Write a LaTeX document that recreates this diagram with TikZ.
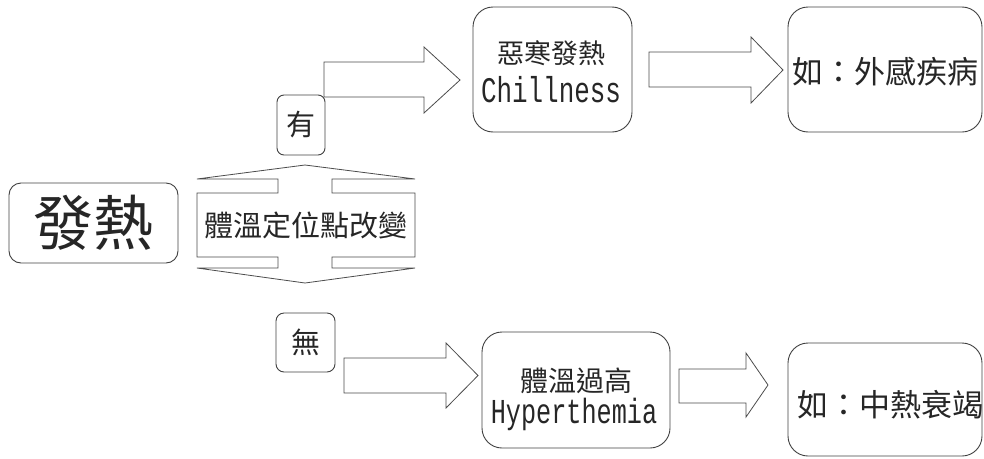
\documentclass[tikz,border=0pt]{standalone}
\usepackage{fontspec}
\newfontfamily\cjk{Noto Sans CJK TC}
\newfontfamily\latinm[FakeStretch=0.72]{Liberation Mono}
\newcommand{\fsz}[1]{\fontsize{#1}{#1}\selectfont}
\begin{document}
\begin{tikzpicture}[x=1pt,y=-1pt]
\tikzset{
  box/.style={draw=black!75, line width=0.9pt, rounded corners=#1, inner sep=0pt},
  blockarrow/.style={draw=black!70, line width=0.8pt, fill=white, line join=miter},
  txt/.style={inner sep=0pt, text=black!85}
}
\useasboundingbox (0,0) rectangle (984,458);

% boxes
\node[box=12pt, minimum width=169pt, minimum height=80pt] (fare) at (93.5,223) {};
\node[txt, font=\cjk\fsz{60}] (faretext) at (93.5,223) {發熱};

\node[box=7pt, minimum width=48pt, minimum height=60pt] (you) at (301,125) {};
\node[txt, font=\cjk\fsz{29}] (youtext) at (301,125) {有};

\node[box=8pt, minimum width=59pt, minimum height=59pt] (wu) at (305.5,342.5) {};
\node[txt, font=\cjk\fsz{29}] (wutext) at (305.5,342.5) {無};

\node[box=20pt, minimum width=159pt, minimum height=125pt] (chill) at (552.5,69.5) {};
\node[txt, font=\cjk\fsz{27}] (chill1) at (551,53) {惡寒發熱};
\node[txt, font=\latinm\fsz{36}, anchor=base] (chill2) at (551,102) {Chillness};

\node[box=20pt, minimum width=188pt, minimum height=116pt] (hyper) at (576,390) {};
\node[txt, font=\cjk\fsz{28}] (hyper1) at (576,381) {體溫過高};
\node[txt, font=\latinm\fsz{35}, anchor=base] (hyper2) at (574,423) {Hyperthemia};

\node[box=20pt, minimum width=194pt, minimum height=125pt] (ex1) at (885,69.5) {};
\node[txt, font=\cjk\fsz{31}, anchor=west] (ex1text) at (792,72) {如：外感疾病};

\node[box=20pt, minimum width=194pt, minimum height=113pt] (ex2) at (885,399.5) {};
\node[txt, font=\cjk\fsz{31}, anchor=west] (ex2text) at (797,405) {如：中熱衰竭};

% up-down arrow callout
\draw[blockarrow] (305,165) -- (197,179) -- (278,179) -- (278,193) -- (197,193)
  -- (197,257) -- (278,257) -- (278,268) -- (197,268) -- (305,283)
  -- (415,268) -- (332,268) -- (332,257) -- (415,257) -- (415,193)
  -- (332,193) -- (332,179) -- (415,179) -- cycle;
\node[txt, font=\cjk\fsz{29}] (shift) at (306,225) {體溫定位點改變};

% block arrows
\draw[blockarrow] (324,62) -- (424,62) -- (424,47) -- (460,80) -- (424,113) -- (424,97) -- (324,97) -- cycle;
\draw[blockarrow] (649,52) -- (751,52) -- (751,37) -- (783,70) -- (751,103) -- (751,87) -- (649,87) -- cycle;
\draw[blockarrow] (344,358) -- (446,358) -- (446,343) -- (478,375.5) -- (446,408) -- (446,393) -- (344,393) -- cycle;
\draw[blockarrow] (679,369) -- (746,369) -- (746,353) -- (768,385) -- (746,417) -- (746,403) -- (679,403) -- cycle;
\end{tikzpicture}
\end{document}
